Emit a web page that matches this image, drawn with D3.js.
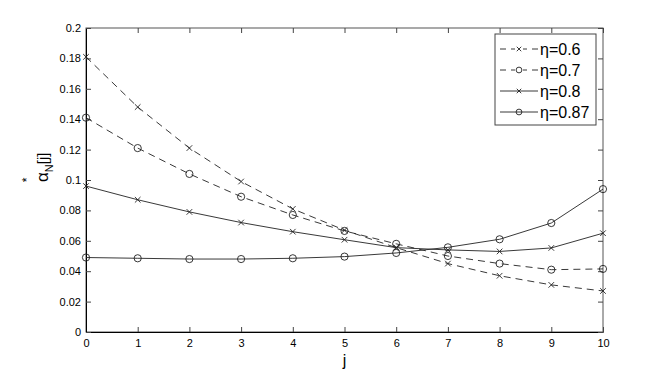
<!DOCTYPE html>
<html><head><meta charset="utf-8">
<script src="https://cdn.jsdelivr.net/npm/d3@7"></script>
<style>body{margin:0;background:#fff}svg{display:block}text{font-family:"Liberation Sans",Arial,sans-serif}</style>
</head><body><svg id="c" width="664" height="373"></svg>
<script>
const jValues = [0,1,2,3,4,5,6,7,8,9,10];
const eta06 = [0.181,0.148,0.121,0.099,0.081,0.067,0.0555,0.045,0.037,0.031,0.027];
const eta07 = [0.141,0.121,0.104,0.089,0.077,0.0665,0.058,0.050,0.045,0.041,0.0415];
const eta08 = [0.096,0.087,0.079,0.072,0.066,0.0607,0.0555,0.054,0.053,0.0553,0.065];
const eta087 = [0.049,0.0485,0.048,0.048,0.0485,0.0496,0.052,0.0557,0.061,0.0717,0.094];
const seriesNames = ["\u03b7=0.6","\u03b7=0.7","\u03b7=0.8","\u03b7=0.87"];
const xTicks = [0,1,2,3,4,5,6,7,8,9,10];
const yTicks = [0,0.02,0.04,0.06,0.08,0.1,0.12,0.14,0.16,0.18,0.2];

const series = [
  {name:seriesNames[0], vals:eta06, dash:"7,5", marker:"x"},
  {name:seriesNames[1], vals:eta07, dash:"7,5", marker:"o"},
  {name:seriesNames[2], vals:eta08, dash:null, marker:"x"},
  {name:seriesNames[3], vals:eta087, dash:null, marker:"o"}
];

const svg = d3.select("#c");
const L=86, R=603, T=28, B=332;
const x = d3.scaleLinear().domain([0,10]).range([L,R]);
const y = d3.scaleLinear().domain([0,0.2]).range([B,T]);
const col = "#222";

// frame
svg.append("rect").attr("x",L).attr("y",T).attr("width",R-L).attr("height",B-T)
  .attr("fill","none").attr("stroke","#555").attr("stroke-width",1);

const fmt = d => d===0?"0":String(+d.toFixed(2));
const gx = svg.append("g").attr("transform",`translate(0,${B})`)
  .call(d3.axisBottom(x).tickValues(xTicks).tickSizeInner(-5).tickSizeOuter(0).tickPadding(7).tickFormat(d3.format("d")));
gx.select(".domain").attr("stroke","#000");
svg.append("g").attr("transform",`translate(0,${T})`)
  .call(d3.axisTop(x).tickValues(xTicks).tickSizeInner(-5).tickSizeOuter(0).tickFormat(""))
  .select(".domain").remove();
const gy = svg.append("g").attr("transform",`translate(${L},0)`)
  .call(d3.axisLeft(y).tickValues(yTicks).tickSizeInner(-5).tickSizeOuter(0).tickPadding(5).tickFormat(fmt));
gy.select(".domain").attr("stroke","#000");
svg.append("g").attr("transform",`translate(${R},0)`)
  .call(d3.axisRight(y).tickValues(yTicks).tickSizeInner(-5).tickSizeOuter(0).tickFormat(""))
  .select(".domain").remove();
svg.selectAll(".tick line").attr("stroke","#444");
svg.selectAll(".tick text").attr("font-size",11).attr("fill","#000").attr("font-family","Liberation Sans, Arial, sans-serif");

// labels
svg.append("text").attr("x",(L+R)/2).attr("y",366).attr("text-anchor","middle").attr("font-size",16).text("j");
const yl = svg.append("text").attr("transform","translate(48,182) rotate(-90)").attr("text-anchor","start").attr("font-size",17);
yl.append("tspan").text("\u03b1");
yl.append("tspan").attr("font-size",11).attr("dy",5).text("N");
yl.append("tspan").attr("dy",-5).attr("font-size",15).text("[j]");
svg.append("text").attr("transform","translate(31,180) rotate(-90)").attr("text-anchor","middle").attr("font-size",12).text("*");

function drawMarker(g, type, cx, cy, k){
  k = k||1;
  if(type==="o"){
    g.append("circle").attr("cx",cx).attr("cy",cy).attr("r",3.6*k).attr("fill","none").attr("stroke",col).attr("stroke-width",0.9);
  } else {
    const s=2.8*k;
    g.append("path").attr("d",`M${cx-s},${cy-s}L${cx+s},${cy+s}M${cx-s},${cy+s}L${cx+s},${cy-s}`).attr("stroke",col).attr("stroke-width",0.9);
  }
}
const line = d3.line().x((d,i)=>x(jValues[i])).y(d=>y(d));
series.forEach(s=>{
  const g = svg.append("g");
  g.append("path").attr("d",line(s.vals)).attr("fill","none").attr("stroke",col).attr("stroke-width",0.9)
    .attr("stroke-dasharray",s.dash);
  s.vals.forEach((v,i)=>drawMarker(g,s.marker,x(jValues[i]),y(v)));
});

// legend
const lg = svg.append("g");
lg.append("rect").attr("x",495).attr("y",34).attr("width",101).attr("height",91).attr("fill","#fff").attr("stroke","#444");
const ly = [49,70,91,112];
series.forEach((s,i)=>{
  if(s.dash){
    lg.append("path").attr("d",`M500,${ly[i]}H506M511,${ly[i]}H515M523,${ly[i]}H527M532,${ly[i]}H538`).attr("stroke",col).attr("stroke-width",0.9);
  } else {
    lg.append("path").attr("d",`M500,${ly[i]}H538`).attr("stroke",col).attr("stroke-width",0.9);
  }
  drawMarker(lg,s.marker,519,ly[i],0.8);
  lg.append("text").attr("x",540).attr("y",ly[i]+6).attr("font-size",16).attr("textLength",null).text(s.name);
});
</script></body></html>
